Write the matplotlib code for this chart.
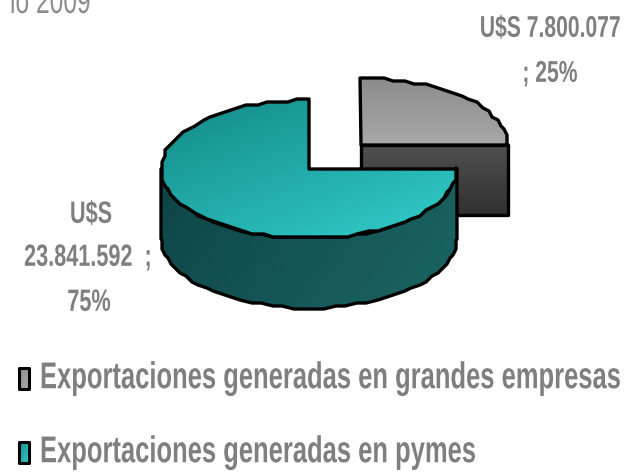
import numpy as np
import matplotlib
matplotlib.use("Agg")
import matplotlib.pyplot as plt
from matplotlib.colors import LinearSegmentedColormap
from matplotlib.patches import Polygon
from matplotlib.patheffects import AbstractPathEffect
from matplotlib.text import Text
from matplotlib.transforms import Affine2D

# ---------------------------------------------------------------------------
# Data
# ---------------------------------------------------------------------------
categories = ["Exportaciones generadas en grandes empresas", "Exportaciones generadas en pymes"]
values = [7800077, 23841592]
small_label = ["U$S 7.800.077", "; 25%"]
big_label = ["U$S", "23.841.592  ;", "75%"]
title_fragment = "io 2009"

GREY = "#7f7f7f"

plt.rcParams["font.family"] = ["Liberation Sans", "DejaVu Sans"]

fig = plt.figure(figsize=(6.3, 4.72), dpi=100)
ax = fig.add_axes([0, 0, 1, 1])
ax.set_xlim(0, 630)
ax.set_ylim(472, 0)
ax.axis("off")


# ---------------------------------------------------------------------------
# The original face is very condensed, no installed font is that narrow,
# so the glyphs get stretched upward around the text anchor
# ---------------------------------------------------------------------------
class Stretch(AbstractPathEffect):
    def __init__(self, y0, sy):
        super().__init__()
        self.y0, self.sy = y0, sy

    def draw_path(self, renderer, gc, tpath, affine, rgbFace=None):
        tall = Affine2D().translate(0, -self.y0).scale(1, self.sy).translate(0, self.y0)
        renderer.draw_path(gc, tpath, affine + tall, rgbFace)


class TallText(Text):
    def __init__(self, x, y, text, sy=1.0, **kw):
        super().__init__(x, y, text, **kw)
        self.sy = sy

    def draw(self, renderer):
        y0 = self.get_transform().transform(self.get_position())[1]
        self.set_path_effects([Stretch(y0, self.sy)])
        super().draw(renderer)


def tall(x, y, txt, sy, **kw):
    t = TallText(x, y, txt, sy=sy, **kw)
    ax.add_artist(t)
    return t


def gradient(poly_xy, c0, c1, angle=90, z=2, lw=2.4):
    """Fill a polygon with a linear gradient, outline it in black."""
    xs, ys = poly_xy[:, 0], poly_xy[:, 1]
    ext = [xs.min(), xs.max(), ys.max(), ys.min()]
    gx, gy = np.meshgrid(np.linspace(0, 1, 64), np.linspace(0, 1, 64))
    a = np.radians(angle)
    g = gx * np.cos(a) + gy * np.sin(a)
    g = (g - g.min()) / (g.max() - g.min())
    cmap = LinearSegmentedColormap.from_list("g", [c0, c1])
    im = ax.imshow(g, extent=ext, cmap=cmap, aspect="auto", zorder=z, interpolation="bilinear")
    patch = Polygon(poly_xy, closed=True, fc="none", ec="black", lw=lw, joinstyle="round", zorder=z + 0.1)
    ax.add_patch(patch)
    im.set_clip_path(patch)


def arc(cx, cy, rx, ry, a0, a1, n=40):
    # points on a coarse pixel grid give the bumpy outline of the low-res original
    t = np.radians(np.linspace(a0, a1, n))
    pts = np.column_stack([cx + rx * np.cos(t), cy - ry * np.sin(t)])
    return np.round(pts / 3) * 3


depth = 70

# small slice, pulled out to the upper right
cx, cy, rx, ry = 361, 145, 147, 67
top = np.vstack([[cx, cy], arc(cx, cy, rx, ry, 90, 0, n=22), [cx + rx, cy]])
side = np.array([[cx, cy], [cx + rx, cy], [cx + rx, cy + depth], [cx, cy + depth]])
gradient(side, "#505050", "#303030", z=2)
gradient(top, "#8c8c8c", "#a8a8a8", z=3)

# large slice
cx, cy, rx, ry = 309, 169, 148, 69
wall = np.vstack([[cx - rx, cy], arc(cx, cy, rx, ry, 180, 360, n=44), [cx + rx, cy],
                  [cx + rx, cy + depth], arc(cx, cy + depth, rx, ry, 360, 180, n=44), [cx - rx, cy + depth]])
gradient(wall, "#0e4446", "#1b6664", angle=20, z=4)
top = np.vstack([[cx, cy], [cx + rx, cy], arc(cx, cy, rx, ry, 0, -270, n=66), [cx, cy - ry]])
gradient(top, "#128a86", "#32cdcb", angle=50, z=5)

# labels
for txt, y in zip(small_label, [29, 74]):
    tall(550, y, txt, 1.42, color=GREY, fontsize=15.2, fontweight="bold", ha="center", va="center")
for txt, y, x in zip(big_label, [215, 258, 303], [91, 88, 89]):
    tall(x, y, txt, 1.42, color=GREY, fontsize=15.6, fontweight="bold", ha="center", va="center")

tall(10, 13, title_fragment, 1.47, color="#8c8c8c", fontsize=17.7, ha="left", va="baseline")

# legend
for name, y, c0, c1 in zip(categories, [378, 452], ["#8f8f8f", "#128a86"], ["#a8a8a8", "#32cdcb"]):
    sq = np.array([[19, y - 10], [29, y - 10], [29, y + 11], [19, y + 11]], dtype=float)
    gradient(sq, c0, c1, angle=45, z=6, lw=2.2)
    tall(40, y, name, 1.46, color=GREY, fontsize=18.4, fontweight="bold", ha="left", va="center")

fig.savefig("out.png", dpi=100)
